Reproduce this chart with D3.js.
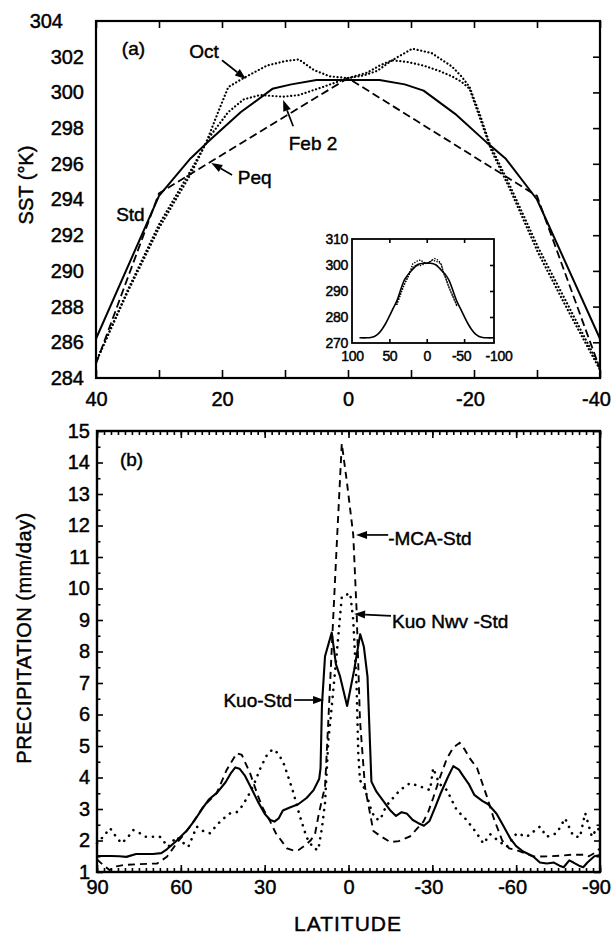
<!DOCTYPE html>
<html><head><meta charset="utf-8">
<script src="https://cdn.jsdelivr.net/npm/d3@7"></script>
<style>
body{margin:0;background:#fff}
svg text{font-family:"Liberation Sans",Arial,sans-serif;fill:#000;stroke:#000;stroke-width:0.45px}
</style>
</head><body>
<svg id="c" width="613" height="934"></svg>
<script>
// ---------- Panel (a): SST profiles ----------
const latStd = [40,30,25,22,17,12,9,5,0,-5,-9,-12,-17,-22,-25,-30,-40];
const sstStd = [286.2,294.2,296.3,297.3,298.9,300.2,300.45,300.7,300.7,300.7,300.45,300.1,298.8,297.2,296.3,294.0,286.2];
const latPeq = [40,30,0,-30,-40];
const sstPeq = [284.8,294.35,300.8,294.2,284.5];
const latOct = [40,35,30,25,22.5,20.5,19,16.6,12.9,10,7.8,5.4,2.9,0,-3,-5,-7,-9.5,-12,-14.5,-16.5,-18,-19.3,-21,-22.7,-25.8,-30.2,-34.6,-40];
const sstOct = [284.9,288.8,292.4,295.4,297.2,299.0,300.3,300.8,301.5,301.75,301.85,301.25,300.9,300.8,301.1,301.5,301.8,301.7,301.5,301.2,300.9,300.6,300.2,298.5,296.8,294.5,291.0,288.0,284.45];
const latFeb = [40,35,30,25,22,19,16.6,14,12,10.3,7.8,4,0,-2.5,-4.6,-7,-10.2,-13.3,-16.5,-18,-19.3,-21,-22.5,-25.8,-30.2,-34.6,-40];
const sstFeb = [284.9,288.9,292.6,295.6,297.5,298.9,299.6,299.85,299.8,299.76,299.85,300.3,300.8,300.95,301.2,301.8,302.45,302.2,301.45,300.9,300.3,298.7,297.1,294.7,291.3,288.3,284.6];
// inset: global Std profile
const latStdGlobal = [90,80,75,70,65,60,55,50,45,40,30,25,22,17,12,9,5,0,-5,-9,-12,-17,-22,-25,-30,-40,-45,-50,-55,-60,-65,-70,-75,-80,-90];
const sstStdGlobal = [272,272,272.1,272.5,273.5,275.2,277.5,280.3,283.3,286.2,294.2,296.3,297.3,298.9,300.2,300.45,300.7,300.7,300.7,300.45,300.1,298.8,297.2,296.3,294.0,286.2,283.3,280.3,277.5,275.2,273.5,272.5,272.1,272,272];

const sstTicks = [284,286,288,290,292,294,296,298,300,302,304];
const latTicksA = [40,30,20,10,0,-10,-20,-30,-40];
const latLabelsA = [40,20,0,-20,-40];
const insetYLabels = [270,280,290,300,310];
const insetXLabels = [100,50,0,-50,-100];

// ---------- Panel (b): precipitation ----------
const latKuo = [90,85,82,79.5,76,70,67,65,62,58,55,52,50,47,44,42,40.5,39,37,35,32.5,30,28,26.5,25,23.5,21,18,15,12.5,10.5,10,9.5,8.4,6,4.5,3,0.5,-2,-4.2,-5.5,-6.8,-8.2,-10,-12.5,-15,-17,-19,-20.8,-23,-25,-27,-29,-31,-33,-35.5,-37.5,-39.5,-41,-43,-45,-48,-50,-53,-55.5,-58,-60,-62.5,-66,-68.5,-71,-73.5,-75.5,-77,-79,-80.5,-82.5,-84,-85.5,-88,-90];
const precKuo = [1.51,1.51,1.50,1.48,1.57,1.57,1.60,1.72,1.95,2.30,2.65,3.05,3.30,3.52,3.85,4.15,4.32,4.28,4.05,3.70,3.25,2.85,2.65,2.60,2.70,2.95,3.05,3.15,3.35,3.60,3.95,4.3,6.3,7.85,8.6,7.6,7.2,6.27,7.4,8.55,8.15,7.2,3.87,3.55,3.25,2.95,2.78,2.9,2.86,2.65,2.55,2.47,2.62,3.05,3.5,4.0,4.36,4.25,4.05,3.8,3.45,3.25,3.15,2.85,2.45,2.05,1.82,1.65,1.5,1.3,1.27,1.30,1.2,1.15,1.37,1.3,1.2,1.15,1.3,1.5,1.54];
const latMca = [90,87.5,85.5,83,80.5,75,68.5,65,61.5,56.7,52,47.2,43.6,40,38.2,35.2,32.3,30.5,28,26,22,19.5,17.8,15.5,13.6,12,10.8,9.5,8.4,7.2,5.4,4.2,2.4,0.6,-1.7,-2.9,-4.1,-5.9,-8.9,-11.3,-14.9,-18,-22,-26.8,-28.5,-30.3,-32.5,-35.2,-37.5,-39.8,-41.5,-43.5,-46,-49.5,-52,-55,-57.5,-60,-63,-66,-68.5,-72,-76,-80,-84,-86,-88,-90];
const precMca = [1.4,1.2,1.06,1.18,1.22,1.25,1.27,1.48,1.91,2.44,3.07,3.5,4.24,4.77,4.72,4.13,3.39,3.0,2.6,2.23,1.75,1.68,1.70,1.85,2.0,2.2,2.76,3.3,3.7,5.83,9.2,11.4,14.6,13.4,11.7,9.3,5.83,3.7,2.3,2.15,1.95,1.98,2.13,2.6,2.9,3.35,3.95,4.6,4.95,5.1,4.9,4.6,4.3,3.4,2.7,2.0,1.75,1.7,1.6,1.5,1.49,1.5,1.52,1.55,1.55,1.5,1.6,1.75];
const latNwv = [90,88,85.3,83,81.2,79,77,75,72.8,70,67.5,64.5,61.5,59.5,57.3,54.3,52,49.6,47.5,45.4,42.4,40,38,36,34,31.5,29,27,25,23,20,17.5,15,12.5,10.8,9.5,8.4,7.2,6,4.2,2.4,-0.6,-1.7,-2.9,-3.5,-4.1,-6,-8,-9.5,-11.3,-13.5,-18.4,-22,-25.5,-29.2,-30.3,-32.5,-35.2,-38.7,-42.3,-45.9,-48.3,-50.7,-53.5,-56.6,-60.2,-63.8,-68.5,-70.9,-74.5,-77.5,-80.4,-82.8,-84.7,-87.1,-89,-90];
const precNwv = [1.91,2.1,2.39,2.1,1.91,2.1,2.33,2.25,2.12,2.12,2.12,1.8,2.12,1.95,1.8,2.44,2.3,2.23,2.45,2.65,2.86,2.9,3.1,3.4,3.75,4.3,4.75,4.9,4.75,4.4,3.6,2.8,2.1,1.75,1.7,2.4,3.2,5.2,6.25,7.95,9.74,9.85,9.0,6.9,4.77,3.92,3.6,3.0,2.7,2.65,3.1,3.6,3.82,3.72,3.6,4.3,3.8,3.6,2.97,2.65,2.23,1.9,2.2,2.0,1.8,2.23,2.12,2.44,2.12,2.23,2.7,2.15,2.1,2.87,2.12,2.4,2.3];

const precTicks = d3.range(1,16);
const precMinor = d3.range(1.5,15,1);
const latMajorB = [90,60,30,0,-30,-60,-90];
const latMinorB = d3.range(90,-90.01,-2.5);

// ---------- layout ----------
const svg = d3.select('#c');
const FONT = 20;
const fmt = d => (d < 0 ? '-' + Math.abs(d) : String(d));

const xa = d3.scaleLinear().domain([40,-40]).range([96,600]);
const ya = d3.scaleLinear().domain([284,304]).range([378,21]);
const xb = d3.scaleLinear().domain([90,-90]).range([97,600]);
const yb = d3.scaleLinear().domain([1,15]).range([872,431]);
const xi = d3.scaleLinear().domain([100,-90]).range([352,494]);
const yi = d3.scaleLinear().domain([270,310]).range([343,239]);

function clean(g, fs){
  g.select('.domain').remove();
  g.selectAll('.tick line').attr('stroke','#000').attr('stroke-width',1.6);
  g.selectAll('.tick text').attr('font-size',fs).attr('fill','#000')
   .attr('font-family','"Liberation Sans",Arial,sans-serif');
}
function negShift(g){
  g.selectAll('.tick text').attr('dx', d => d < 0 ? -4 : 0);
}

// ===== Panel (a) =====
const ga = svg.append('g');
ga.append('g').attr('transform','translate(0,378)')
  .call(d3.axisBottom(xa).tickValues(latTicksA).tickSize(-8).tickPadding(14)
        .tickFormat(d => latLabelsA.includes(d) ? fmt(d) : ''))
  .call(g => clean(g, FONT)).call(negShift);
ga.append('g').attr('transform','translate(0,21)')
  .call(d3.axisTop(xa).tickValues(latTicksA).tickSize(-7).tickFormat(''))
  .call(g => clean(g, FONT));
ga.append('g').attr('transform','translate(96,0)')
  .call(d3.axisLeft(ya).tickValues(sstTicks).tickSize(0).tickPadding(12).tickFormat(fmt))
  .call(g => clean(g, FONT))
  .call(g => g.selectAll('.tick text').filter(d => d === 304).attr('dx', -21));
ga.append('g').attr('transform','translate(600,0)')
  .call(d3.axisRight(ya).tickValues(sstTicks.slice(1,-1)).tickSize(-7).tickFormat(''))
  .call(g => clean(g, FONT));
ga.append('rect').attr('x',xa(40)).attr('y',ya(304)).attr('width',xa(-40)-xa(40)).attr('height',ya(284)-ya(304))
  .attr('fill','none').attr('stroke','#000').attr('stroke-width',2.2);

const lineA = d3.line().x(d => xa(d[0])).y(d => ya(d[1]));
ga.append('path').datum(d3.zip(latStd, sstStd)).attr('d', lineA)
  .attr('fill','none').attr('stroke','#000').attr('stroke-width',2).attr('stroke-linejoin','round');
ga.append('path').datum(d3.zip(latPeq, sstPeq)).attr('d', lineA)
  .attr('fill','none').attr('stroke','#000').attr('stroke-width',1.8).attr('stroke-dasharray','8,4');
[[latOct,sstOct],[latFeb,sstFeb]].forEach(([la,va]) => {
  ga.append('path').datum(d3.zip(la, va)).attr('d', lineA)
    .attr('fill','none').attr('stroke','#000').attr('stroke-width',2.2)
    .attr('stroke-linecap','round').attr('stroke-dasharray','0.1,3.6');
});

// inset
const gi = svg.append('g');
gi.append('rect').attr('x',xi(100)).attr('y',yi(310)).attr('width',xi(-90)-xi(100)).attr('height',yi(270)-yi(310))
  .attr('fill','#fff');
gi.append('g').attr('transform','translate(0,343)')
  .call(d3.axisBottom(xi).tickValues([50,0,-50]).tickSize(-4).tickFormat(''))
  .call(g => clean(g, 14));
gi.append('g').attr('transform','translate(0,343)')
  .call(d3.axisBottom(xi).tickValues(insetXLabels).tickSize(0).tickPadding(8).tickFormat(fmt))
  .call(g => clean(g, 14))
  .call(g => g.selectAll('.tick text').attr('letter-spacing',-0.3).attr('dx', d => d < 0 ? -3 : 0));
gi.append('g').attr('transform','translate(0,239)')
  .call(d3.axisTop(xi).tickValues([50,0,-50]).tickSize(-4).tickFormat(''))
  .call(g => clean(g, 14));
gi.append('g').attr('transform','translate(352,0)')
  .call(d3.axisLeft(yi).tickValues(insetYLabels).tickSize(0).tickPadding(4).tickFormat(fmt))
  .call(g => clean(g, 14))
  .call(g => g.selectAll('.tick text').attr('letter-spacing',-0.3));
gi.append('g').attr('transform','translate(494,0)')
  .call(d3.axisRight(yi).tickValues([280,290,300]).tickSize(-4).tickFormat(''))
  .call(g => clean(g, 14));
gi.append('rect').attr('x',xi(100)).attr('y',yi(310)).attr('width',xi(-90)-xi(100)).attr('height',yi(270)-yi(310))
  .attr('fill','none').attr('stroke','#000').attr('stroke-width',1.8);
const lineI = d3.line().x(d => xi(d[0])).y(d => yi(d[1])).curve(d3.curveCatmullRom);
[[latOct,sstOct],[latFeb,sstFeb]].forEach(([la,va]) => {
  gi.append('path').datum(d3.zip(la, va)).attr('d', lineI)
    .attr('fill','none').attr('stroke','#000').attr('stroke-width',1.5)
    .attr('stroke-linecap','round').attr('stroke-dasharray','0.1,2.6');
});
gi.append('path').datum(d3.zip(latStdGlobal, sstStdGlobal)).attr('d', lineI)
  .attr('fill','none').attr('stroke','#000').attr('stroke-width',1.6);

// annotations (a)
function arrow(g, x1, y1, x2, y2, hl, hw){
  hl = hl || 11; hw = hw || 4;
  const dx = x2 - x1, dy = y2 - y1, L = Math.hypot(dx, dy), ux = dx / L, uy = dy / L;
  const bx = x2 - ux * hl, by = y2 - uy * hl;
  g.append('line').attr('x1',x1).attr('y1',y1).attr('x2',bx).attr('y2',by)
    .attr('stroke','#000').attr('stroke-width',1.7);
  g.append('path').attr('d', `M${x2},${y2}L${bx - uy*hw},${by + ux*hw}L${bx + uy*hw},${by - ux*hw}Z`)
    .attr('fill','#000');
}
function label(g, x, y, t, fs, anchor){
  g.append('text').attr('x',x).attr('y',y).attr('font-size',fs || FONT)
    .attr('text-anchor', anchor || 'start').text(t);
}
label(ga, xa(35.9), ya(302.1), '(a)', 19);
label(ga, xa(25.2), ya(301.93), 'Oct', 19);
arrow(ga, xa(20), ya(301.8), xa(16.2), ya(300.75));
label(ga, xa(9.4), ya(296.77), 'Feb 2', 19);
arrow(ga, xa(8.7), ya(298.1), xa(10.3), ya(299.57));
label(ga, xa(17.5), ya(294.87), 'Peq', 19);
arrow(ga, xa(18.4), ya(295.37), xa(21.7), ya(296.04));
label(ga, xa(36.8), ya(292.8), 'Std', 19);

// ===== Panel (b) =====
const gb = svg.append('g');
gb.append('g').attr('transform','translate(0,872)')
  .call(d3.axisBottom(xb).tickValues(latMinorB).tickSize(-4).tickFormat(''))
  .call(g => clean(g, FONT));
gb.append('g').attr('transform','translate(0,872)')
  .call(d3.axisBottom(xb).tickValues(latMajorB).tickSize(-7).tickPadding(8).tickFormat(fmt))
  .call(g => clean(g, FONT)).call(negShift);
gb.append('g').attr('transform','translate(0,431)')
  .call(d3.axisTop(xb).tickValues(latMinorB).tickSize(-4).tickFormat(''))
  .call(g => clean(g, FONT));
gb.append('g').attr('transform','translate(0,431)')
  .call(d3.axisTop(xb).tickValues(latMajorB).tickSize(-7).tickFormat(''))
  .call(g => clean(g, FONT));
gb.append('g').attr('transform','translate(97,0)')
  .call(d3.axisLeft(yb).tickValues(precTicks).tickSize(-6).tickPadding(7).tickFormat(fmt))
  .call(g => clean(g, FONT));
gb.append('g').attr('transform','translate(97,0)')
  .call(d3.axisLeft(yb).tickValues(precMinor).tickSize(-3.5).tickFormat(''))
  .call(g => clean(g, FONT));
gb.append('g').attr('transform','translate(600,0)')
  .call(d3.axisRight(yb).tickValues(precTicks).tickSize(-6).tickFormat(''))
  .call(g => clean(g, FONT));
gb.append('g').attr('transform','translate(600,0)')
  .call(d3.axisRight(yb).tickValues(precMinor).tickSize(-3.5).tickFormat(''))
  .call(g => clean(g, FONT));
gb.append('rect').attr('x',xb(90)).attr('y',yb(15)).attr('width',xb(-90)-xb(90)).attr('height',yb(1)-yb(15))
  .attr('fill','none').attr('stroke','#000').attr('stroke-width',2.4);

const lineB = d3.line().x(d => xb(d[0])).y(d => yb(d[1]));
gb.append('path').datum(d3.zip(latNwv, precNwv)).attr('d', lineB)
  .attr('fill','none').attr('stroke','#000').attr('stroke-width',2.6)
  .attr('stroke-linecap','round').attr('stroke-dasharray','0.1,7');
gb.append('path').datum(d3.zip(latMca, precMca)).attr('d', lineB)
  .attr('fill','none').attr('stroke','#000').attr('stroke-width',1.9).attr('stroke-dasharray','7,5');
gb.append('path').datum(d3.zip(latKuo, precKuo)).attr('d', lineB)
  .attr('fill','none').attr('stroke','#000').attr('stroke-width',2.1).attr('stroke-linejoin','round');

label(gb, xb(81.8), yb(13.89), '(b)', 19);
label(gb, xb(-14.2), yb(11.38), '-MCA-Std', 19);
arrow(gb, xb(-14.2), yb(11.7), xb(-2.7), yb(11.7));
label(gb, xb(-15.6), yb(8.75), 'Kuo Nwv -Std', 19);
arrow(gb, xb(-15.2), yb(9.13), xb(-2.0), yb(9.19));
label(gb, xb(20.2), yb(6.24), 'Kuo-Std', 19, 'end');
arrow(gb, xb(19.5), yb(6.46), xb(8.75), yb(6.46));

// axis titles
svg.append('text').attr('transform','translate(33,185) rotate(-90)').attr('text-anchor','middle')
  .attr('font-size',20).text('SST (°K)');
svg.append('text').attr('transform','translate(31,638) rotate(-90)').attr('text-anchor','middle')
  .attr('font-size',20).attr('letter-spacing',0.5).text('PRECIPITATION (mm/day)');
svg.append('text').attr('x',348).attr('y',931).attr('text-anchor','middle')
  .attr('font-size',21).attr('letter-spacing',1).text('LATITUDE');
</script>
</body></html>
